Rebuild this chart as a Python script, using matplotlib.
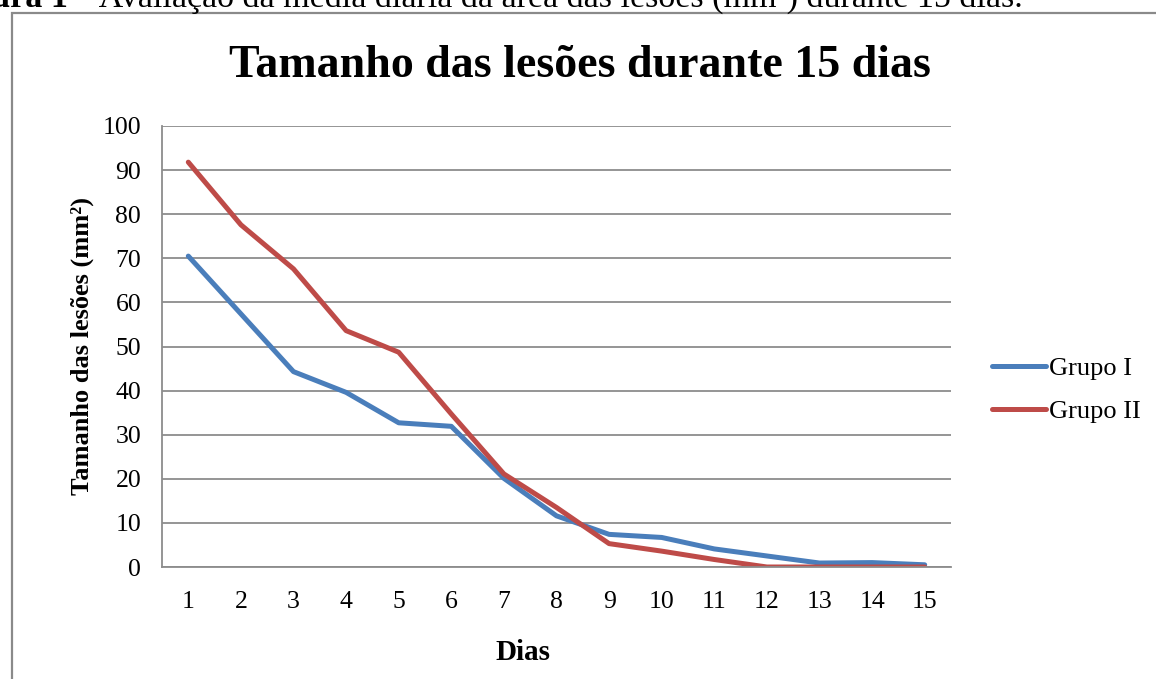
import matplotlib
matplotlib.use("Agg")
import matplotlib.pyplot as plt
from matplotlib.patches import Rectangle

plt.rcParams["font.family"] = ["Liberation Serif", "DejaVu Serif"]

dias = list(range(1, 16))
grupo_1 = [70.5, 57.4, 44.3, 39.6, 32.7, 31.9, 20.1, 11.6, 7.4, 6.7, 4.1, 2.5, 0.9, 1.0, 0.5]
grupo_2 = [91.8, 77.6, 67.6, 53.6, 48.7, 34.7, 21.1, 13.5, 5.3, 3.6, 1.7, 0.0, 0.0, 0.0, 0.0]
y_ticks = list(range(0, 101, 10))

W, H = 1156, 679
fig = plt.figure(figsize=(W / 100, H / 100), dpi=100)

# frame of the chart area (cropped by the page at right/bottom)
fig.patches.append(Rectangle((12 / W, -0.05), 1.2, 1 - 13 / H + 0.05,
                             transform=fig.transFigure, fill=False,
                             edgecolor="#8a8a8a", linewidth=1.6))

# caption of the figure, mostly cut by the top edge
fig.text(68 / W, 1 - 7 / H, "Figura 1", fontsize=24.5, fontweight="bold",
         va="baseline", ha="right")
fig.text(75 / W, 1 - 7 / H,
         "\u2013 Avalia\u00e7\u00e3o da m\u00e9dia di\u00e1ria da \u00e1rea das les\u00f5es (mm\u00b2) durante 15 dias.",
         fontsize=24.5, va="baseline", ha="left")

fig.text(580 / W, 1 - 77 / H, "Tamanho das les\u00f5es durante 15 dias",
         fontsize=33, fontweight="bold", ha="center", va="baseline")

ax = fig.add_axes([162 / W, 1 - 567 / H, (951 - 162) / W, (567 - 126) / H])
ax.plot(dias, grupo_1, color="#4A7EBB", linewidth=3.6, label="Grupo I",
        solid_capstyle="round", solid_joinstyle="round")
ax.plot(dias, grupo_2, color="#BE4B48", linewidth=3.6, label="Grupo II",
        solid_capstyle="round", solid_joinstyle="round")

ax.set_xlim(0.5, 15.5)
ax.set_ylim(0, 100)
ax.set_xticks(dias)
ax.set_yticks(y_ticks)
ax.tick_params(length=0, labelsize=18.5, colors="black")
ax.tick_params(axis="y", pad=15)
ax.tick_params(axis="x", pad=17)
ax.grid(axis="y", color="#8c8c8c", linewidth=1.3)
ax.set_axisbelow(True)
for s in ("top", "right"):
    ax.spines[s].set_visible(False)
for s in ("left", "bottom"):
    ax.spines[s].set_color("#8c8c8c")
    ax.spines[s].set_linewidth(1.3)

fig.text(82 / W, 1 - 346 / H, "Tamanho das les\u00f5es (mm\u00b2)", rotation=90,
         fontsize=19, fontweight="bold", ha="center", va="center")
fig.text(523 / W, 1 - 652 / H, "Dias", fontsize=21, fontweight="bold",
         ha="center", va="center")

leg = ax.legend(loc="center left", bbox_to_anchor=(992 / W, 1 - 390 / H),
                bbox_transform=fig.transFigure, frameon=False, fontsize=19,
                handlelength=2.05, handletextpad=0.12, labelspacing=0.75,
                borderaxespad=0, borderpad=0)

fig.savefig("out.png", dpi=100)
